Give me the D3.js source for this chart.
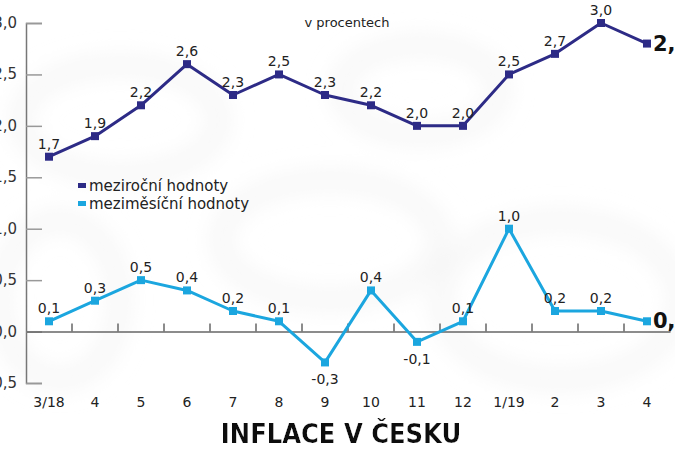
<!DOCTYPE html>
<html>
<head>
<meta charset="utf-8">
<script src="https://cdn.jsdelivr.net/npm/d3@7"></script>
<style>
  body { margin: 0; background: #fff; }
  svg { display: block; }
</style>
</head>
<body>
<div id="chart"></div>
<script>
// data
const months = ['3/18', '4', '5', '6', '7', '8', '9', '10', '11', '12', '1/19', '2', '3', '4'];
const yearOnYear = [1.7, 1.9, 2.2, 2.6, 2.3, 2.5, 2.3, 2.2, 2.0, 2.0, 2.5, 2.7, 3.0, 2.8];
const monthOnMonth = [0.1, 0.3, 0.5, 0.4, 0.2, 0.1, -0.3, 0.4, -0.1, 0.1, 1.0, 0.2, 0.2, 0.1];
const yTicks = [-0.5, 0, 0.5, 1.0, 1.5, 2.0, 2.5, 3.0];
const seriesNames = ['meziroční hodnoty', 'meziměsíční hodnoty'];

const width = 675, height = 450;
const dark = '#2d2b86', light = '#1ba6df';
const font = "'DejaVu Sans', sans-serif";
// czech style: decimal comma, plain hyphen for minus
const fmt = v => d3.format('.1f')(v).replace('.', ',').replace('\u2212', '-');

const svg = d3.select('#chart')
  .append('svg')
  .attr('width', width)
  .attr('height', height)
  .style('font-family', font);

// faint background texture
const defs = svg.append('defs');
defs.append('filter').attr('id', 'blur')
  .append('feGaussianBlur').attr('stdDeviation', 12);
const bg = svg.append('g').attr('filter', 'url(#blur)');
[[120, 120, 100, 55], [330, 240, 110, 60], [560, 300, 120, 80], [60, 300, 60, 80], [420, 90, 80, 45]]
  .forEach(([cx, cy, rx, ry]) => {
    bg.append('ellipse')
      .attr('cx', cx).attr('cy', cy).attr('rx', rx).attr('ry', ry)
      .attr('fill', 'none').attr('stroke', '#f3f3f3').attr('stroke-width', 14);
  });

// index based band scale, month names repeat
const idx = d3.range(months.length);
const x = d3.scaleBand().domain(idx).range([26, 670]);
const y = d3.scaleLinear().domain([-0.5, 3.0]).range([383, 23]);
const cx = i => x(i) + x.bandwidth() / 2;

// y axis
const yAxis = svg.append('g')
  .attr('transform', 'translate(26,0)')
  .call(d3.axisRight(y).tickValues(yTicks).tickSize(16).tickFormat(''));
yAxis.select('.domain').attr('stroke', '#777').attr('stroke-width', 1.5);
yAxis.selectAll('.tick line').attr('stroke', '#999').attr('stroke-width', 1.5);

svg.append('g').selectAll('text')
  .data(yTicks)
  .join('text')
  .attr('x', 17)
  .attr('y', d => y(d) + 5)
  .attr('text-anchor', 'end')
  .attr('font-size', 15)
  .attr('fill', '#333')
  .text(d => fmt(d));

// x axis on the zero line
const xAxis = svg.append('g')
  .attr('transform', `translate(0,${y(0)})`)
  .call(d3.axisTop(x).tickSize(0).tickFormat(''));
xAxis.select('.domain').attr('stroke', '#666').attr('stroke-width', 1.5);
svg.append('g').selectAll('line')
  .data(idx)
  .join('line')
  .attr('x1', i => x(i) + x.bandwidth())
  .attr('x2', i => x(i) + x.bandwidth())
  .attr('y1', y(0) - 8)
  .attr('y2', y(0))
  .attr('stroke', '#666')
  .attr('stroke-width', 1.5);

svg.append('g').selectAll('text')
  .data(idx)
  .join('text')
  .attr('x', i => cx(i))
  .attr('y', 407)
  .attr('text-anchor', 'middle')
  .attr('font-size', 14)
  .attr('fill', '#222')
  .text(i => months[i]);

// series
const line = d3.line().x((d, i) => cx(i)).y(d => y(d));

function drawSeries(values, color) {
  const g = svg.append('g');
  g.append('path')
    .datum(values)
    .attr('d', line)
    .attr('fill', 'none')
    .attr('stroke', color)
    .attr('stroke-width', 3)
    .attr('stroke-linejoin', 'round');
  g.selectAll('rect')
    .data(values)
    .join('rect')
    .attr('x', (d, i) => cx(i) - 4)
    .attr('y', d => y(d) - 4)
    .attr('width', 8)
    .attr('height', 8)
    .attr('fill', color);
  const last = values.length - 1;
  g.selectAll('text.lbl')
    .data(values.slice(0, last))
    .join('text')
    .attr('class', 'lbl')
    .attr('x', (d, i) => cx(i))
    .attr('y', d => d < 0 ? y(d) + 22 : y(d) - 8)
    .attr('text-anchor', 'middle')
    .attr('font-size', 14)
    .attr('fill', '#222')
    .text(d => fmt(d));
  g.append('text')
    .attr('x', cx(last) + 6)
    .attr('y', y(values[last]) + 7)
    .attr('font-size', 21)
    .attr('font-weight', 'bold')
    .attr('fill', '#111')
    .text(fmt(values[last]));
}
drawSeries(yearOnYear, dark);
drawSeries(monthOnMonth, light);

// legend
const legend = svg.append('g').attr('transform', 'translate(78,186)');
[dark, light].forEach((c, i) => {
  legend.append('rect')
    .attr('x', 0).attr('y', i * 18 - 3)
    .attr('width', 8).attr('height', 5)
    .attr('fill', c);
  legend.append('text')
    .attr('x', 11).attr('y', i * 18 + 5)
    .attr('font-size', 15)
    .attr('fill', '#222')
    .text(seriesNames[i]);
});

svg.append('text')
  .attr('x', 347).attr('y', 27)
  .attr('text-anchor', 'middle')
  .attr('font-size', 13)
  .attr('fill', '#222')
  .text('v procentech');

// title
defs.append('filter').attr('id', 'glow')
  .html('<feMorphology operator="dilate" radius="1.5" in="SourceAlpha" result="d"/>' +
        '<feFlood flood-color="#fff"/><feComposite in2="d" operator="in"/>' +
        '<feMerge><feMergeNode/><feMergeNode in="SourceGraphic"/></feMerge>');
svg.append('text')
  .attr('x', 341).attr('y', 443)
  .attr('text-anchor', 'middle')
  .attr('font-family', "'DejaVu Sans Condensed', 'DejaVu Sans', sans-serif")
  .attr('font-stretch', 'condensed')
  .attr('font-weight', 'bold')
  .attr('font-size', 27)
  .attr('fill', '#111')
  .attr('filter', 'url(#glow)')
  .text('INFLACE V ČESKU');
</script>
</body>
</html>
